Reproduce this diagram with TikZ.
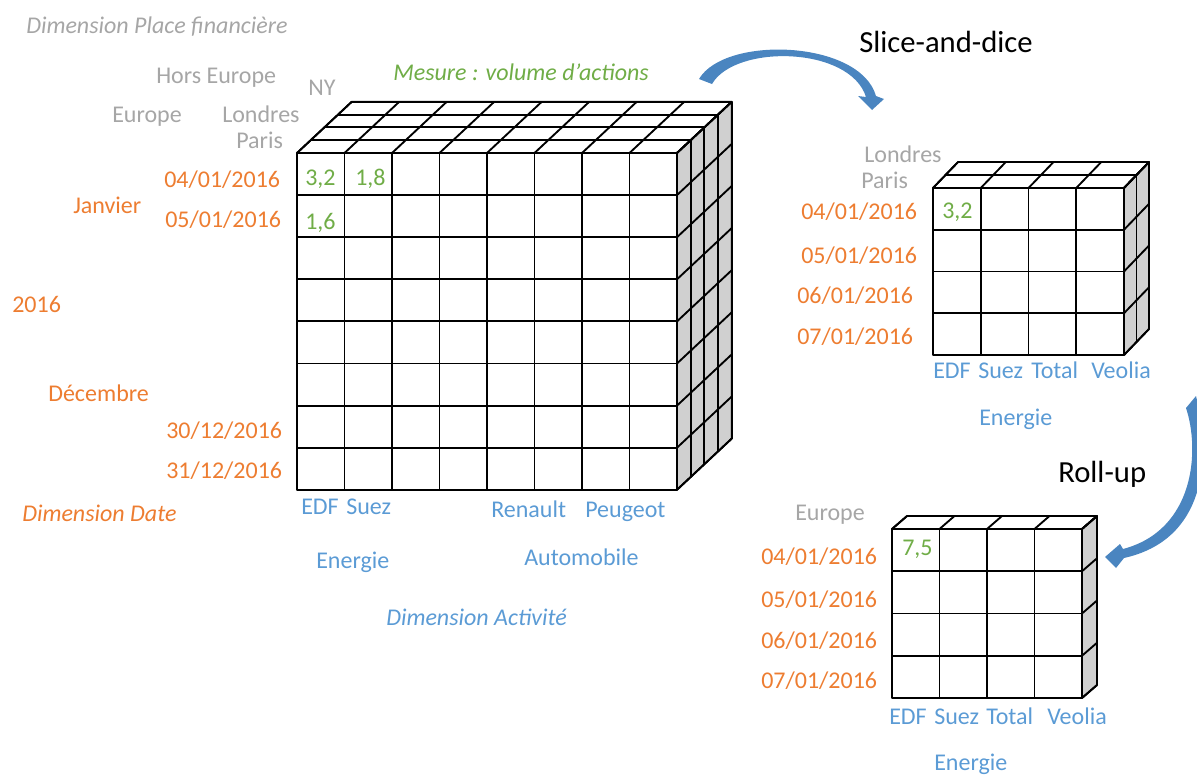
\documentclass[tikz,border=0pt]{standalone}
\usepackage{fontspec}
\setmainfont{Carlito}
\usepackage{tikz}
\usetikzlibrary{calc}

\definecolor{dateorange}{HTML}{ED7D31}
\definecolor{actblue}{HTML}{5B9BD5}
\definecolor{mesgreen}{HTML}{70AD47}
\definecolor{placegray}{HTML}{A6A6A6}
\definecolor{sidegray}{HTML}{D0D0D0}
\definecolor{arrowblue}{HTML}{4A85C0}

\tikzset{
  lbl/.style={inner sep=0pt, anchor=west, text height=.63em, text depth=0pt,
    yshift=-3.3pt, font=\fontsize{18}{20}\selectfont},
  placelbl/.style={lbl, text=placegray},
  datelbl/.style={lbl, text=dateorange},
  actlbl/.style={lbl, text=actblue},
  meslbl/.style={lbl, text=mesgreen},
  oplbl/.style={lbl, font=\fontsize{23}{26}\selectfont},
  cubeline/.style={line width=1.4pt, line join=round},
}

% cols, rows, layers, depth step (x, up) in cell units
\newcommand{\datacube}[5]{%
  \filldraw[fill=white] (0,0) -- (#3*#4,-#3*#5) -- (#1+#3*#4,-#3*#5) -- (#1,0) -- cycle;
  \filldraw[fill=sidegray] (#1,0) -- (#1+#3*#4,-#3*#5) -- (#1+#3*#4,#2-#3*#5) -- (#1,#2) -- cycle;
  \filldraw[fill=white] (0,0) rectangle (#1,#2);
  \foreach \i in {0,...,#1} \draw (\i,0) -- (\i,#2);
  \foreach \j in {0,...,#2} \draw (0,\j) -- (#1,\j);
  \foreach \i in {0,...,#1} \draw (\i,0) -- ++(#3*#4,-#3*#5);
  \foreach \k in {1,...,#3} \draw (\k*#4,-\k*#5) -- ++(#1,0);
  \foreach \k in {1,...,#3} \draw (#1+\k*#4,-\k*#5) -- ++(0,#2);
  \foreach \j in {0,...,#2} \draw (#1,\j) -- ++(#3*#4,-#3*#5);
}

\begin{document}
\begin{tikzpicture}[x=0.75pt, y=-0.75pt]
        \useasboundingbox (0,0) rectangle (1197,775);
        \clip (0,0) rectangle (1197,775);

        % big cube
        \begin{scope}[shift={(297,153)}, x=35.625pt, y=-31.575pt, cubeline]
          \datacube{8}{8}{4}{0.288}{0.304}
        \end{scope}

        % place dimension
        \node[placelbl, font=\fontsize{18}{20}\selectfont\itshape] (dimplace) at (26,25) {Dimension Place financière};
        \node[placelbl] (horseur) at (156,75) {Hors Europe};
        \node[placelbl] (ny) at (308,87) {NY};
        \node[placelbl] (europe) at (112,114) {Europe};
        \node[placelbl] (londres) at (222,114) {Londres};
        \node[placelbl] (paris) at (236,140) {Paris};

        % mesure
        \node[meslbl, font=\fontsize{18}{20}\selectfont\itshape] (mesure) at (393,72) {Mesure : volume d’actions};
        \node[meslbl] (v32) at (305,177) {3,2};
        \node[meslbl] (v18) at (355,177) {1,8};
        \node[meslbl] (v16) at (305,221) {1,6};

        % date dimension
        \node[datelbl] (d0401) at (164,178.5) {04/01/2016};
        \node[datelbl] (janvier) at (73,205) {Janvier};
        \node[datelbl] (d0501) at (165,219) {05/01/2016};
        \node[datelbl] (annee) at (12,304) {2016};
        \node[datelbl] (decembre) at (48,393) {Décembre};
        \node[datelbl] (d3012) at (166,430) {30/12/2016};
        \node[datelbl] (d3112) at (166,470) {31/12/2016};
        \node[datelbl, font=\fontsize{18}{20}\selectfont\itshape] (dimdate) at (22,513) {Dimension Date};

        % activity dimension
        \node[actlbl] (edf) at (301,506) {EDF};
        \node[actlbl] (suez) at (346,506) {Suez};
        \node[actlbl] (renault) at (491,509) {Renault};
        \node[actlbl] (peugeot) at (585,509) {Peugeot};
        \node[actlbl] (energie) at (316,560) {Energie};
        \node[actlbl] (auto) at (524,557) {Automobile};
        \node[actlbl, font=\fontsize{18}{20}\selectfont\itshape] (dimact) at (386,617) {Dimension Activité};

        % slice-and-dice
        \node[oplbl] (slice) at (859,44) {Slice-and-dice};
        \fill[arrowblue] (699,79) .. controls (725,35) and (860,40) .. (876,96) -- (884,99)
          -- (872,110) -- (858,96) -- (866,97) .. controls (850,46) and (735,44) .. (712,84) -- cycle;

        \begin{scope}[shift={(933,188)}, x=35.81pt, y=-31.31pt, cubeline]
          \datacube{4}{4}{2}{0.262}{0.311}
        \end{scope}
        \node[placelbl] (londres2) at (864,154) {Londres};
        \node[placelbl] (paris2) at (861,180) {Paris};
        \node[meslbl] (s32) at (942,210) {3,2};
        \node[datelbl] (s0401) at (801,211) {04/01/2016};
        \node[datelbl] (s0501) at (801,255) {05/01/2016};
        \node[datelbl] (s0601) at (797,295) {06/01/2016};
        \node[datelbl] (s0701) at (797,336) {07/01/2016};
        \node[actlbl] (sedf) at (933,370) {EDF};
        \node[actlbl] (ssuez) at (978,370) {Suez};
        \node[actlbl] (stotal) at (1031,370) {Total};
        \node[actlbl] (sveolia) at (1091,370) {Veolia};
        \node[actlbl] (senergie) at (979,417) {Energie};

        % roll-up
        \node[oplbl] (rollup) at (1058,474) {Roll-up};
        \fill[arrowblue] (1186,408) .. controls (1200,450) and (1195,530) .. (1123,549) -- (1120,544)
          -- (1105,557) -- (1116,568) -- (1124,558) .. controls (1205,540) and (1212,460) .. (1196,396) -- cycle;

        \begin{scope}[shift={(892,529)}, x=35.625pt, y=-31.69pt, cubeline]
          \datacube{4}{4}{1}{0.316}{0.308}
        \end{scope}
        \node[placelbl] (europe2) at (795,512) {Europe};
        \node[meslbl] (r75) at (902,547) {7,5};
        \node[datelbl] (r0401) at (761,556) {04/01/2016};
        \node[datelbl] (r0501) at (761,599) {05/01/2016};
        \node[datelbl] (r0601) at (761,640) {06/01/2016};
        \node[datelbl] (r0701) at (761,680) {07/01/2016};
        \node[actlbl] (redf) at (889,716) {EDF};
        \node[actlbl] (rsuez) at (934,716) {Suez};
        \node[actlbl] (rtotal) at (986,716) {Total};
        \node[actlbl] (rveolia) at (1047,716) {Veolia};
        \node[actlbl] (renergie) at (934,762) {Energie};

      \end{tikzpicture}
\end{document}
